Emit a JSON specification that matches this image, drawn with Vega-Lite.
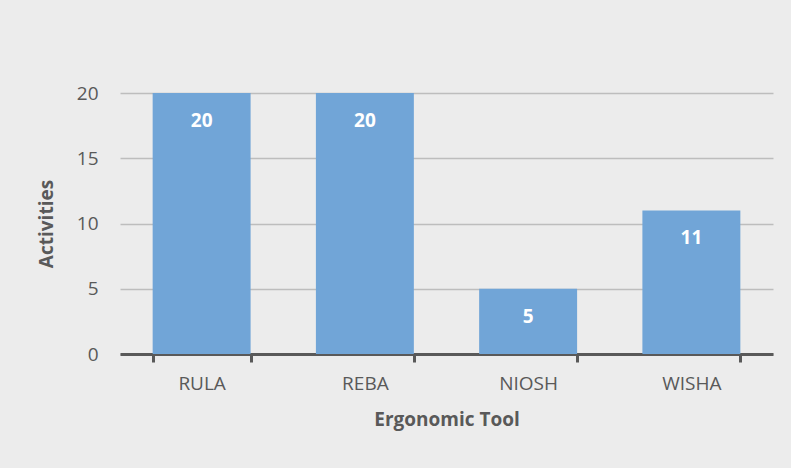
{
  "$schema": "https://vega.github.io/schema/vega-lite/v6.json",
  "width": 653,
  "height": 261,
  "autosize": {"type": "none"},
  "padding": {"left": 120, "top": 93, "right": 18, "bottom": 114},
  "background": "#ececec",
  "config": {
    "view": {"stroke": null},
    "font": "Open Sans"
  },
  "data": {
    "values": [
      {"tool": "RULA", "activities": 20},
      {"tool": "REBA", "activities": 20},
      {"tool": "NIOSH", "activities": 5},
      {"tool": "WISHA", "activities": 11}
    ]
  },
  "encoding": {
    "x": {
      "field": "tool",
      "type": "nominal",
      "sort": null,
      "scale": {"paddingInner": 0.4, "paddingOuter": 0.2},
      "axis": {
        "title": "Ergonomic Tool",
        "labelAngle": 0,
        "labelFont": "Open Sans",
        "labelFontSize": 19,
        "labelColor": "#595959",
        "labelPadding": 12,
        "domainColor": "#595959",
        "domainWidth": 3,
        "tickColor": "#595959",
        "tickWidth": 3,
        "tickSize": 8,
        "tickBand": "extent",
        "titleFont": "Open Sans",
        "titleFontSize": 19,
        "titleFontWeight": "bold",
        "titleColor": "#595959",
        "titlePadding": 17
      }
    },
    "y": {
      "field": "activities",
      "type": "quantitative",
      "scale": {"domain": [0, 20]},
      "axis": {
        "title": "Activities",
        "values": [0, 5, 10, 15, 20],
        "domain": false,
        "ticks": false,
        "labelFont": "Open Sans",
        "labelFontSize": 19,
        "labelColor": "#595959",
        "labelPadding": 22,
        "gridColor": "#bdbdbd",
        "gridWidth": 1.5,
        "titleFont": "Open Sans",
        "titleFontSize": 19,
        "titleFontWeight": "bold",
        "titleColor": "#595959",
        "titlePadding": 20
      }
    }
  },
  "layer": [
    {"mark": {"type": "bar", "color": "#71a5d7"}},
    {
      "mark": {
        "type": "text",
        "color": "white",
        "fontWeight": "bold",
        "fontSize": 19,
        "font": "Open Sans",
        "baseline": "middle",
        "dy": 28
      },
      "encoding": {"text": {"field": "activities", "type": "quantitative"}}
    }
  ]
}
